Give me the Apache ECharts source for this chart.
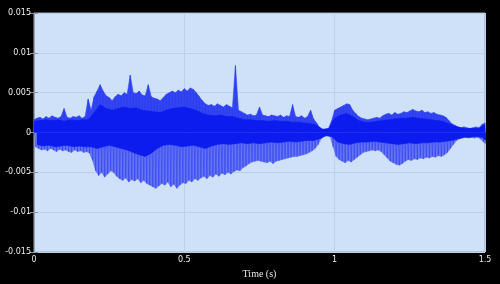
<!DOCTYPE html>
<html><head><meta charset="utf-8">
<script src="https://cdn.jsdelivr.net/npm/echarts@6/dist/echarts.min.js"></script>
<style>html,body{margin:0;padding:0;background:#000;}#c{width:500px;height:284px;}</style>
</head><body><div id="c"></div>
<script>
// envelope of the waveform, sampled every 0.01 s from 0 to 1.5 s
var step = 0.01;
var upper = [0.0016,0.0018,0.0019,0.0017,0.0020,0.0018,0.0021,0.0019,0.0018,0.0020,0.0030,0.0019,0.0018,0.0020,0.0019,0.0021,0.0018,0.0020,0.0042,
0.0028,0.0045,0.0052,0.0060,0.0052,0.0046,0.0044,0.0040,0.0045,0.0048,0.0046,0.0050,0.0048,0.0072,0.0050,0.0049,0.0052,0.0047,0.0046,0.0060,0.0045,
0.0043,0.0042,0.0040,0.0044,0.0048,0.0050,0.0052,0.0050,0.0053,0.0051,0.0055,0.0052,0.0056,0.0054,0.0050,0.0045,0.0040,0.0036,0.0034,0.0035,
0.0033,0.0036,0.0034,0.0032,0.0035,0.0033,0.0031,0.0084,0.0028,0.0026,0.0024,0.0022,0.0023,0.0021,0.0022,0.0032,0.0022,0.0021,0.0020,0.0022,
0.0021,0.0020,0.0022,0.0019,0.0021,0.0020,0.0035,0.0020,0.0019,0.0021,0.0018,0.0020,0.0028,0.0017,0.0012,0.0006,0.0004,0.0004,0.0005,0.0015,
0.0028,0.0030,0.0032,0.0034,0.0036,0.0035,0.0028,0.0024,0.0020,0.0018,0.0017,0.0016,0.0017,0.0018,0.0019,0.0018,0.0021,0.0023,0.0024,0.0022,
0.0025,0.0023,0.0024,0.0026,0.0025,0.0027,0.0029,0.0027,0.0026,0.0028,0.0025,0.0026,0.0024,0.0025,0.0023,0.0022,0.0021,0.0019,0.0015,0.0011,
0.0009,0.0007,0.0006,0.0007,0.0006,0.0005,0.0006,0.0007,0.0006,0.0010,0.0012];
var lower = [-0.0018,-0.0020,-0.0022,-0.0021,-0.0023,-0.0020,-0.0022,-0.0024,-0.0021,-0.0023,-0.0022,-0.0024,-0.0025,-0.0022,-0.0024,-0.0023,-0.0025,-0.0024,-0.0026,
-0.0035,-0.0048,-0.0054,-0.0050,-0.0056,-0.0052,-0.0048,-0.0050,-0.0055,-0.0058,-0.0060,-0.0057,-0.0062,-0.0059,-0.0061,-0.0058,-0.0063,-0.0060,-0.0064,-0.0066,-0.0068,
-0.0070,-0.0067,-0.0064,-0.0066,-0.0062,-0.0068,-0.0065,-0.0070,-0.0066,-0.0063,-0.0064,-0.0060,-0.0062,-0.0058,-0.0060,-0.0057,-0.0055,-0.0058,-0.0054,-0.0056,
-0.0052,-0.0055,-0.0051,-0.0053,-0.0050,-0.0052,-0.0049,-0.0047,-0.0048,-0.0044,-0.0042,-0.0039,-0.0037,-0.0036,-0.0035,-0.0036,-0.0037,-0.0038,-0.0036,-0.0039,
-0.0036,-0.0035,-0.0034,-0.0033,-0.0032,-0.0031,-0.0030,-0.0030,-0.0029,-0.0028,-0.0027,-0.0025,-0.0023,-0.0020,-0.0015,-0.0008,-0.0005,-0.0004,-0.0005,-0.0018,
-0.0030,-0.0034,-0.0036,-0.0038,-0.0035,-0.0037,-0.0034,-0.0031,-0.0028,-0.0025,-0.0024,-0.0023,-0.0022,-0.0023,-0.0022,-0.0024,-0.0028,-0.0032,-0.0036,-0.0038,
-0.0040,-0.0041,-0.0039,-0.0036,-0.0034,-0.0035,-0.0033,-0.0034,-0.0032,-0.0033,-0.0031,-0.0032,-0.0030,-0.0031,-0.0029,-0.0030,-0.0028,-0.0025,-0.0020,-0.0015,
-0.0010,-0.0008,-0.0007,-0.0006,-0.0007,-0.0006,-0.0007,-0.0006,-0.0008,-0.0012,-0.0015];
// dense (dark) core of the waveform, sampled every 0.02 s
var coreStep = 0.02;
var coreUpper = [0.0014,0.0015,0.0016,0.0015,0.0016,0.0014,0.0016,0.0015,0.0016,0.0016,0.0025,0.0035,0.0030,0.0028,0.0030,0.0032,0.0030,0.0031,0.0028,0.0027,
0.0026,0.0025,0.0028,0.0030,0.0031,0.0032,0.0030,0.0028,0.0024,0.0022,0.0021,0.0022,0.0020,0.0020,0.0018,0.0016,0.0016,0.0015,0.0015,0.0014,
0.0015,0.0014,0.0014,0.0013,0.0013,0.0012,0.0011,0.0009,0.0004,0.0005,0.0018,0.0022,0.0024,0.0020,0.0015,0.0013,0.0013,0.0014,0.0015,0.0016,
0.0017,0.0018,0.0018,0.0019,0.0018,0.0017,0.0016,0.0015,0.0014,0.0011,0.0008,0.0006,0.0005,0.0005,0.0005,0.0010];
var coreLower = [-0.0015,-0.0017,-0.0016,-0.0018,-0.0017,-0.0016,-0.0018,-0.0017,-0.0018,-0.0018,-0.0020,-0.0018,-0.0016,-0.0018,-0.0020,-0.0022,-0.0025,-0.0028,-0.0030,-0.0026,
-0.0020,-0.0016,-0.0015,-0.0016,-0.0018,-0.0017,-0.0016,-0.0018,-0.0020,-0.0017,-0.0015,-0.0014,-0.0015,-0.0014,-0.0013,-0.0014,-0.0013,-0.0014,-0.0013,-0.0012,
-0.0013,-0.0012,-0.0011,-0.0012,-0.0011,-0.0010,-0.0010,-0.0008,-0.0004,-0.0005,-0.0012,-0.0014,-0.0015,-0.0013,-0.0012,-0.0012,-0.0011,-0.0012,-0.0013,-0.0014,
-0.0015,-0.0014,-0.0013,-0.0014,-0.0013,-0.0013,-0.0012,-0.0012,-0.0011,-0.0010,-0.0008,-0.0006,-0.0006,-0.0005,-0.0006,-0.0012];
var xTicks = [0, 0.5, 1, 1.5];
var yTicks = [-0.015, -0.01, -0.005, 0, 0.005, 0.01, 0.015];
var xLabel = 'Time (s)';

function pts(vals, dt, off) {
  return vals.map(function (v, i) { return [i * dt + (off || 0), v]; });
}
function zig(up, lo, dt) {
  var out = [];
  for (var i = 0; i < up.length; i++) {
    out.push([i * dt, up[i]]);
    out.push([i * dt + dt / 2, lo[i]]);
  }
  return out;
}
function band(data, color, z) {
  return {type: 'line', data: data, showSymbol: false, silent: true, z: z,
    lineStyle: {color: color, width: 0.6}, areaStyle: {color: color, opacity: 1, origin: 0}};
}
var chart = echarts.init(document.getElementById('c'), null, {renderer: 'canvas'});
var labelStyle = {color: '#eeeeee', fontSize: 8, fontFamily: 'DejaVu Sans'};
var gridColor = '#bdd0ea';
var tickStyle = {show: true, inside: true, length: 4, lineStyle: {color: '#8a96a4'}};
chart.setOption({
  backgroundColor: '#000',
  animation: false,
  grid: {left: 34, right: 15, top: 13, bottom: 32, show: true, backgroundColor: '#cfe1f8', borderColor: '#9aa6b4', borderWidth: 1},
  xAxis: [{
    type: 'value', min: xTicks[0], max: xTicks[xTicks.length - 1], interval: 0.5,
    name: xLabel, nameLocation: 'middle', nameGap: 14,
    nameTextStyle: {color: '#e8e8e8', fontSize: 10, fontFamily: 'Liberation Serif'},
    axisLine: {show: true, lineStyle: {color: '#9aa6b4'}},
    axisTick: tickStyle,
    axisLabel: Object.assign({margin: 4, formatter: function (v) { return String(v); }}, labelStyle),
    splitLine: {show: true, lineStyle: {color: gridColor, width: 1}}
  }, {
    type: 'value', position: 'top', min: 0, max: 1.5, interval: 0.5,
    axisLine: {show: false}, axisTick: tickStyle, axisLabel: {show: false}, splitLine: {show: false}
  }],
  yAxis: [{
    type: 'value', min: yTicks[0], max: yTicks[yTicks.length - 1], interval: 0.005,
    axisLine: {show: true, lineStyle: {color: '#9aa6b4'}},
    axisTick: tickStyle,
    axisLabel: Object.assign({margin: 3, formatter: function (v) { return String(Math.round(v * 1000) / 1000); }}, labelStyle),
    splitLine: {show: true, lineStyle: {color: gridColor, width: 1}}
  }, {
    type: 'value', position: 'right', min: -0.015, max: 0.015, interval: 0.005,
    axisLine: {show: false}, axisTick: tickStyle, axisLabel: {show: false}, splitLine: {show: false}
  }],
  series: [
    band(pts(upper, step), '#3446f2', 2),
    band(pts(lower, step, step / 2), '#6474f4', 2),
    {type: 'line', data: zig(upper, lower, step), showSymbol: false, silent: true, z: 3,
      lineStyle: {color: '#2a3cf0', width: 0.6, opacity: 0.8}},
    band(pts(coreUpper, coreStep), '#0c1cee', 4),
    band(pts(coreLower, coreStep, coreStep / 2), '#0c1cee', 4)
  ]
});
</script></body></html>
